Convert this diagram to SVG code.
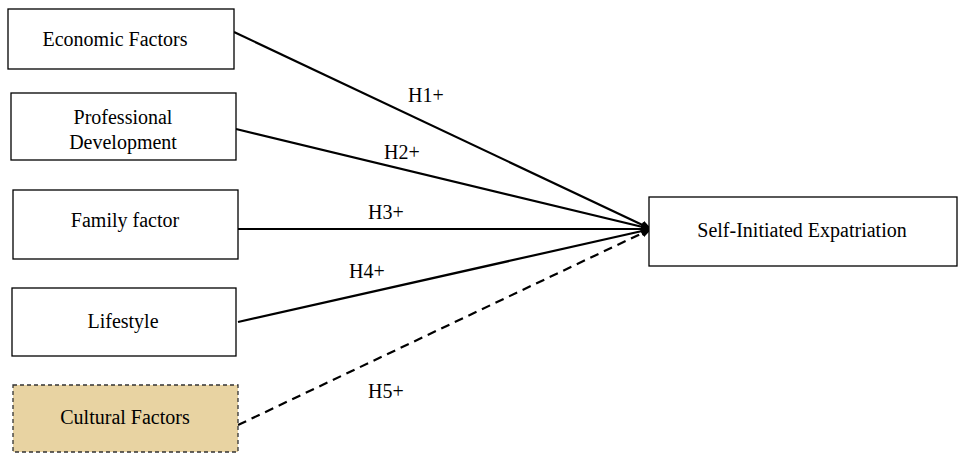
<svg xmlns="http://www.w3.org/2000/svg" width="960" height="459" viewBox="0 0 960 459">
<style>
.box{fill:#fff;stroke:#000;stroke-width:1.3}
.t{font-family:"Liberation Serif",serif;font-size:20px;fill:#000;text-anchor:middle}
.l{font-family:"Liberation Serif",serif;font-size:20px;fill:#000}
.c{stroke:#000;stroke-width:2.2;fill:none}
</style>
<defs>
<marker id="a" viewBox="0 0 10 10" refX="9" refY="5" markerWidth="5" markerHeight="5" orient="auto" markerUnits="strokeWidth"><path d="M0,1 L10,5 L0,9 z" fill="#000"/></marker>
</defs>
<rect width="960" height="459" fill="#fff"/>
<g id="connectors">
<line class="c" x1="234" y1="32" x2="651" y2="229" marker-end="url(#a)"/>
<line class="c" x1="236" y1="129" x2="651" y2="229" marker-end="url(#a)"/>
<line class="c" x1="238" y1="229" x2="651" y2="229" marker-end="url(#a)"/>
<line class="c" x1="238" y1="322" x2="651" y2="229" marker-end="url(#a)"/>
<line class="c" x1="238" y1="425" x2="651" y2="229" stroke-dasharray="9,6" marker-end="url(#a)"/>
<text class="l" x="408" y="102">H1+</text>
<text class="l" x="384" y="159">H2+</text>
<text class="l" x="368" y="219">H3+</text>
<text class="l" x="349" y="278">H4+</text>
<text class="l" x="368" y="398">H5+</text>
</g>
<g id="economic"><rect class="box" x="8" y="9" width="226" height="60"/><text class="t" x="115" y="46">Economic Factors</text></g>
<g id="professional"><rect class="box" x="11" y="93" width="225" height="67"/><text class="t" x="123" y="124">Professional</text><text class="t" x="123" y="149">Development</text></g>
<g id="family"><rect class="box" x="13" y="190" width="225" height="69"/><text class="t" x="125" y="227">Family factor</text></g>
<g id="lifestyle"><rect class="box" x="12" y="288" width="224" height="68"/><text class="t" x="123" y="328">Lifestyle</text></g>
<g id="cultural"><rect x="13" y="385" width="225" height="67" fill="#e8d3a2" stroke="#333" stroke-width="1.3" stroke-dasharray="4,3"/><text class="t" x="125" y="424">Cultural Factors</text></g>
<g id="sie"><rect class="box" x="649" y="197" width="308" height="69"/><text class="t" x="802" y="237">Self-Initiated Expatriation</text></g>
</svg>
